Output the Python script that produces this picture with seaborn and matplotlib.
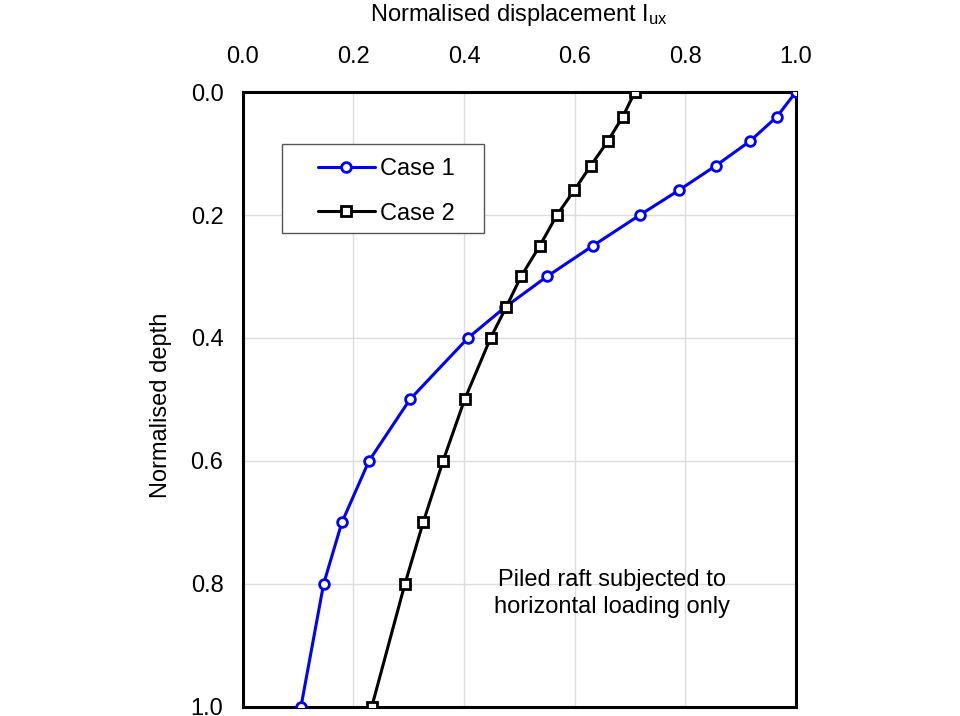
import matplotlib
matplotlib.use("Agg")
import matplotlib.pyplot as plt
from matplotlib.patches import Rectangle
import seaborn as sns
import pandas as pd

# ── Data ───────────────────────────────────────────────────────────────────────
depth = [0.0, 0.04, 0.08, 0.12, 0.16, 0.2, 0.25, 0.3, 0.35, 0.4, 0.5, 0.6, 0.7, 0.8, 1.0]
case1 = [1.0, 0.966, 0.917, 0.855, 0.788, 0.718, 0.633, 0.550, 0.474, 0.407,
         0.302, 0.228, 0.179, 0.146, 0.105]
case2 = [0.709, 0.687, 0.660, 0.629, 0.599, 0.568, 0.537, 0.503, 0.476, 0.448,
         0.401, 0.362, 0.326, 0.293, 0.233]
ticks = [0.0, 0.2, 0.4, 0.6, 0.8, 1.0]

df = pd.concat([
    pd.DataFrame({"depth": depth, "disp": case1, "case": "Case 1"}),
    pd.DataFrame({"depth": depth, "disp": case2, "case": "Case 2"}),
])

# ── Setup ──────────────────────────────────────────────────────────────────────
sns.set_theme(style="white")
plt.rcParams.update({
    "font.family": ["Liberation Sans", "DejaVu Sans"],
    "mathtext.fontset": "custom",
    "mathtext.rm": "Liberation Sans",
    "mathtext.it": "Liberation Sans",
    "text.color": "black",
    "axes.labelcolor": "black",
})

fig = plt.figure(figsize=(9.6, 7.16), dpi=100, facecolor="white")
ax = fig.add_axes([0.253, 0.0126, 0.576, 0.8589])

styles = {"Case 1": dict(color="#0000ff", marker="o"),
          "Case 2": dict(color="black", marker="s")}
for name, st in styles.items():
    sub = df[df["case"] == name]
    sns.lineplot(data=sub, x="disp", y="depth", sort=False, ax=ax,
                 color=st["color"], marker=st["marker"], markersize=7,
                 markerfacecolor="white", markeredgecolor=st["color"],
                 markeredgewidth=2, linewidth=2.2, label=name, zorder=3)

ax.set_xlim(0, 1)
ax.set_ylim(1, 0)
ax.set_xticks(ticks)
ax.set_yticks(ticks)
ax.set_xticklabels([f"{t:.1f}" for t in ticks])
ax.set_yticklabels([f"{t:.1f}" for t in ticks])
ax.xaxis.tick_top()
ax.xaxis.set_label_position("top")
ax.tick_params(axis="both", length=0, labelsize=17, colors="black")
ax.tick_params(axis="x", pad=17)
ax.tick_params(axis="y", pad=14)
ax.grid(True, color="#dcdcdc", linewidth=1)

for sp in ax.spines.values():
    sp.set_color("black")
    sp.set_linewidth(2.2)

ax.set_xlabel(r"Normalised displacement I$_{\rm ux}$", fontsize=17, labelpad=18)
ax.set_ylabel("Normalised depth", fontsize=17)
ax.yaxis.set_label_coords(-0.129, 0.491)

# legend box (frame drawn separately for the wider side padding)
ax.add_patch(Rectangle((0.0705, 0.7707), 0.3653, 0.1447, transform=ax.transAxes,
                       facecolor="white", edgecolor="#555555", linewidth=1, zorder=4))
leg = ax.legend(loc="upper left", bbox_to_anchor=(0.1356, 0.893), borderaxespad=0,
                fontsize=17, frameon=False, handlelength=2.4,
                labelspacing=0.97, borderpad=0, handletextpad=0.25)
leg.set_zorder(5)
for t in leg.get_texts():
    t.set_color("black")

ax.text(0.667, 0.185, "Piled raft subjected to\nhorizontal loading only",
        transform=ax.transAxes, ha="center", va="center", fontsize=17,
        linespacing=1.27, color="black")

fig.savefig("out.png", dpi=100, facecolor="white")
